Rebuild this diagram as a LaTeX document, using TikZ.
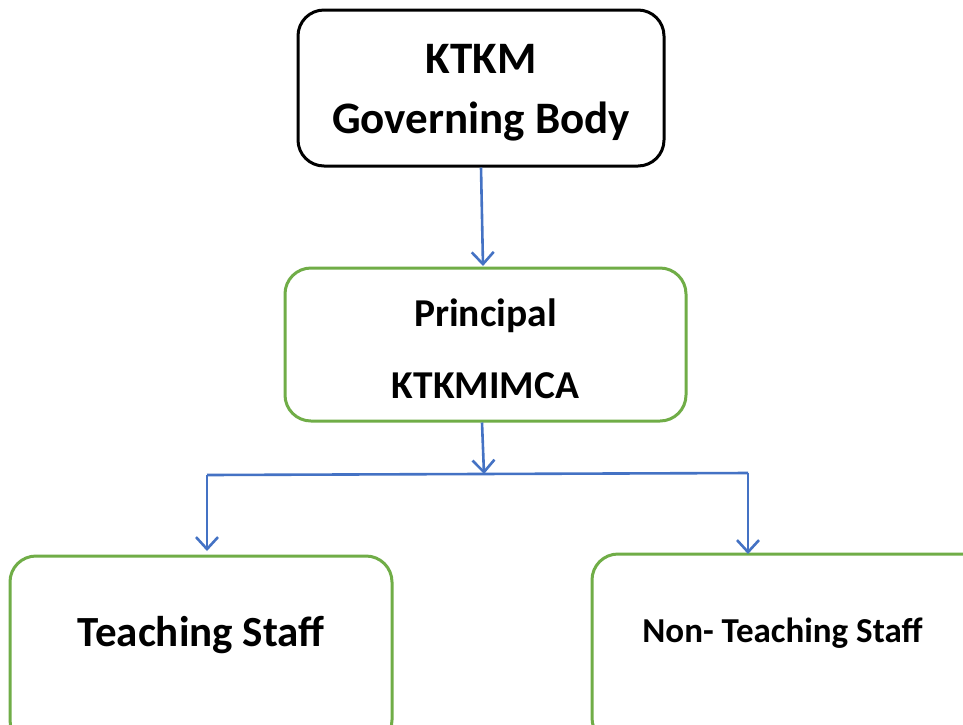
\documentclass[tikz,border=0pt]{standalone}
\usepackage{fontspec}
\setmainfont{Carlito}
\usetikzlibrary{arrows.meta}
\definecolor{boxgreen}{HTML}{70AD47}
\definecolor{arrowblue}{HTML}{4472C4}
\begin{document}
\begin{tikzpicture}[x=1pt,y=-1pt,
  box/.style={draw, rounded corners=26pt, line width=3pt, inner sep=0pt},
  blackbox/.style={box, draw=black},
  greenbox/.style={box, draw=boxgreen},
  lbl/.style={font=\bfseries, inner sep=0pt, align=center, anchor=base},
  conn/.style={draw=arrowblue, line width=2.6pt},
  arr/.style={conn, -{Straight Barb[length=12pt,width=22pt,line width=2.6pt]}}
]
\useasboundingbox[clip] (0,0) rectangle (963,724);
\fill[white] (0,0) rectangle (963,724);
% boxes
\node[blackbox, minimum width=366pt, minimum height=156pt] (top) at (481,88) {};
\node[greenbox, minimum width=401pt, minimum height=153pt] (prin) at (485.5,344.5) {};
\node[greenbox, minimum width=382pt, minimum height=190pt] (teach) at (201,651) {};
\node[greenbox, minimum width=400pt, minimum height=190pt] (nonteach) at (792,649) {};
% labels
\node[lbl, font=\fontsize{45}{54}\bfseries\selectfont] (t1) at (481,73) {KTKM};
\node[lbl, font=\fontsize{45}{54}\bfseries\selectfont] (t2) at (481,133) {Governing Body};
\node[lbl, font=\fontsize{39.5}{46}\bfseries\selectfont] (p1) at (485.5,326) {Principal};
\node[lbl, font=\fontsize{39.5}{46}\bfseries\selectfont] (p2) at (485.5,398) {KTKMIMCA};
\node[lbl, font=\fontsize{43}{50}\bfseries\selectfont] (tt) at (201,646) {Teaching Staff};
\node[lbl, font=\fontsize{35}{42}\bfseries\selectfont] (nt) at (782.5,642) {Non- Teaching Staff};
% connectors
\coordinate (jm) at (484,474);
\coordinate (jl) at (207,475);
\coordinate (jr) at (748,473);
\draw[arr] (top.south) -- (483,266);
\draw[arr] (prin.south -| 482,0) -- (jm);
\draw[conn] (jl) -- (jr);
\draw[arr] (jl) -- (207,551);
\draw[arr] (jr) -- (748,554);
\end{tikzpicture}
\end{document}
